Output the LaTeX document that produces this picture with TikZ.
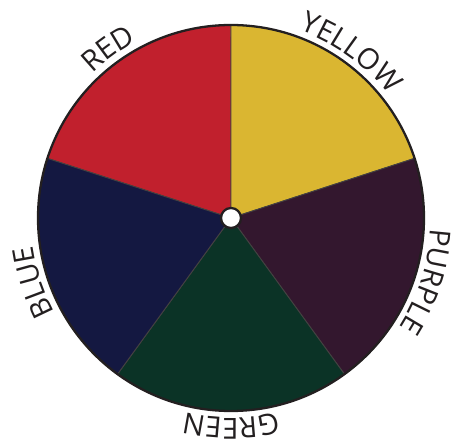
\documentclass[tikz,border=0pt]{standalone}
\usepackage{fontspec}
\setmainfont{Open Sans}
\usepackage{tikz}
\usepackage{xcolor}
\usetikzlibrary{decorations.text}

\definecolor{rim}{HTML}{231F20}
\definecolor{wheelred}{HTML}{C1202D}
\definecolor{wheelyellow}{HTML}{DAB631}
\definecolor{wheelpurple}{HTML}{33172E}
\definecolor{wheelgreen}{HTML}{0B3326}
\definecolor{wheelblue}{HTML}{141841}
\newcommand{\wheelfont}{\fontsize{16.5}{19}\selectfont}

\begin{document}
\begin{tikzpicture}[label arc/.style={decorate, decoration={text along path, text align=center, text color=rim}}]
  \useasboundingbox (-4.62,-4.54) rectangle (4.42,4.36);
  % five sectors
  \foreach \a/\c in {90/wheelred, 18/wheelyellow, -54/wheelpurple, -126/wheelgreen, 162/wheelblue}
    \filldraw[fill=\c, draw=rim!85, line width=0.5pt] (0,0) -- (\a:3.86) arc[start angle=\a, delta angle=72, radius=3.86] -- cycle;
  % rim and hub
  \draw[rim, line width=1.3pt] (0,0) circle (3.86);
  \draw[rim, fill=white, line width=1.3pt] (0,0) circle (0.2);
  % names round the rim
  \path[label arc, decoration={text={|\wheelfont|RED}}] (156:4.0) arc[start angle=156, end angle=96, radius=4.0];
  \path[label arc, decoration={text={|\wheelfont|YELLOW}}] (84:4.0) arc[start angle=84, end angle=24, radius=4.0];
  \path[label arc, decoration={text={|\wheelfont|PURPLE}}] (12:4.0) arc[start angle=12, end angle=-48, radius=4.0];
  \path[label arc, decoration={text={|\wheelfont|GREEN}}] (-60:4.0) arc[start angle=-60, end angle=-120, radius=4.0];
  \path[label arc, decoration={text={|\wheelfont|BLUE}}] (228:4.0) arc[start angle=228, end angle=168, radius=4.0];
\end{tikzpicture}
\end{document}
